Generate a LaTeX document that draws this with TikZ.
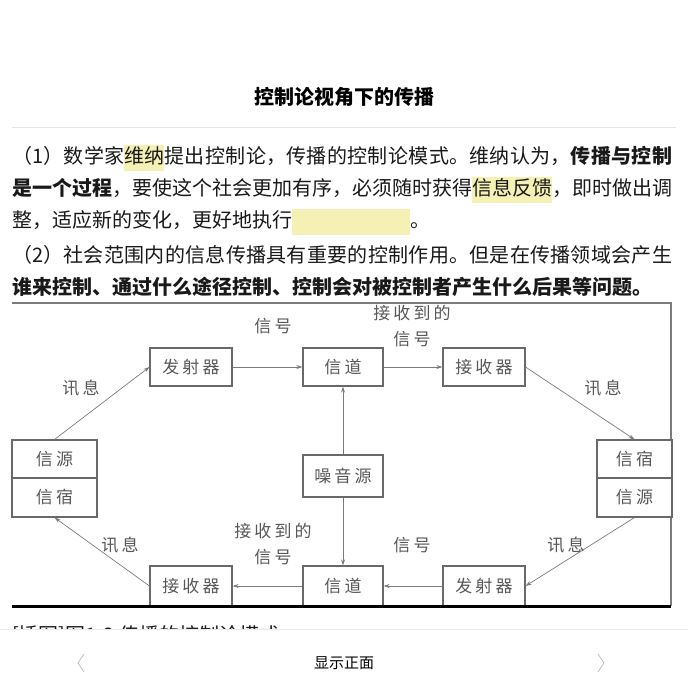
\documentclass[tikz,border=0pt]{standalone}
\usepackage{fontspec}
\usetikzlibrary{arrows.meta,positioning}
\newfontfamily\cjk{Noto Sans CJK SC}
\newfontfamily\song[LetterSpace=18]{Noto Sans CJK SC}
\XeTeXlinebreaklocale "zh"
\XeTeXlinebreakskip=0pt plus 2pt
\definecolor{hlyellow}{HTML}{F5F0B4}
\definecolor{scanline}{HTML}{7C7C7C}
\definecolor{scantext}{HTML}{585858}
\newcommand\hlt[1]{{\setlength\fboxsep{0pt}\colorbox{hlyellow}{\strut #1}}}

\begin{document}
\begin{tikzpicture}[x=1pt,y=-1pt,
  para/.style={anchor=west,inner sep=0pt,font=\cjk\fontsize{20}{26}\selectfont,text=black!90},
  fullline/.style={para,text width=660pt,align=justify,execute at begin node={\parfillskip=0pt}},
  blk/.style={draw=scanline!85!black,line width=1.1pt,fill=white,inner sep=0pt,
    font=\song\fontsize{17}{20}\selectfont,text=scantext},
  lbl/.style={inner sep=0pt,font=\song\fontsize{17}{20}\selectfont,text=scantext},
  arr/.style={draw=scanline,line width=.7pt,-{Stealth[length=6pt,width=4pt]}}]

  \fill[white] (0,0) rectangle (688,688);
  \useasboundingbox (0,0) rectangle (688,688);

  \node[font=\cjk\bfseries\fontsize{20}{24}\selectfont] (title) at (344,97) {控制论视角下的传播};
  \draw[black!10,line width=1pt] (12,127) -- (676,127);

  \node[fullline] (l1) at (12,158) {（1）数学家\hlt{维纳}提出控制论，传播的控制论模式。维纳认为，\textbf{传播与控制}};
  \node[para] (l2) at (12,190) {\textbf{是一个过程}，要使这个社会更加有序，必须随时获得\hlt{信息反馈}，即时做出调};
  \node[para] (l3) at (12,222) {整，适应新的变化，更好地执行\hlt{\hspace{118pt}}。};
  \node[fullline] (l4) at (12,255) {（2）社会范围内的信息传播具有重要的控制作用。但是在传播领域会产生};
  \node[para] (l5) at (12,287) {\textbf{谁来控制、通过什么途径控制、控制会对被控制者产生什么后果等问题。}};

  % scanned figure
  \draw[scanline,line width=1.2pt] (12,303) -- (671,303) -- (671,606);

  \node[blk,minimum width=82pt,minimum height=38pt] (txtop) at (191,367) {发射器};
  \node[blk,minimum width=80pt,minimum height=38pt] (chtop) at (343,367) {信道};
  \node[blk,minimum width=82pt,minimum height=38pt] (rxtop) at (484,367) {接收器};
  \node[blk,minimum width=85pt,minimum height=38pt] (lsrc) at (54.5,459) {信源};
  \node[blk,minimum width=85pt,minimum height=39pt] (lsink) at (54.5,497.5) {信宿};
  \node[blk,minimum width=80pt,minimum height=42pt] (noise) at (343,476) {噪音源};
  \node[blk,minimum width=75pt,minimum height=38pt] (rsink) at (634.5,459) {信宿};
  \node[blk,minimum width=75pt,minimum height=39pt] (rsrc) at (634.5,497.5) {信源};
  \node[blk,minimum width=82pt,minimum height=40pt] (rxbot) at (191,586) {接收器};
  \node[blk,minimum width=80pt,minimum height=40pt] (chbot) at (343,586) {信道};
  \node[blk,minimum width=82pt,minimum height=40pt] (txbot) at (484,586) {发射器};

  \draw[arr] (txtop) -- (chtop);
  \draw[arr] (chtop) -- (rxtop);
  \draw[arr] (noise) -- (chtop);
  \draw[arr] (noise) -- (chbot);
  \draw[arr] (txbot) -- (chbot);
  \draw[arr] (chbot) -- (rxbot);
  \draw[arr] (lsrc.north) -- (txtop.west);
  \draw[arr] (rxtop.east) -- (rsink.north);
  \draw[arr] (rsrc.south) -- (txbot.east);
  \draw[arr] (rxbot.west) -- (lsink.south);

  \node[lbl] (sigA) at (273,326) {信号};
  \node[lbl,align=center] (recA) at (412,326) {接收到的\\[6pt]信号};
  \node[lbl] (msgA) at (81,388) {讯息};
  \node[lbl] (msgB) at (603,388) {讯息};
  \node[lbl,align=center] (recB) at (273,544) {接收到的\\[6pt]信号};
  \node[lbl] (sigB) at (412,545) {信号};
  \node[lbl] (msgC) at (120,545) {讯息};
  \node[lbl] (msgD) at (566,545) {讯息};

  \draw[black,line width=3pt] (12,606) -- (671,606);

  % caption cut off by the bottom bar
  \begin{scope}
    \clip (0,612) rectangle (688,629);
    \node[para] (cap) at (12,636) {[插图]图1-2 传播的控制论模式};
  \end{scope}
  \draw[black!8,line width=1pt] (0,629) -- (688,629);

  \node[font=\cjk\fontsize{15}{18}\selectfont] (front) at (344,663) {显示正面};
  \draw[black!25,line width=.8pt] (84,654) -- (78,663) -- (84,672);
  \draw[black!25,line width=.8pt] (598,654) -- (604,663) -- (598,672);
\end{tikzpicture}
\end{document}
